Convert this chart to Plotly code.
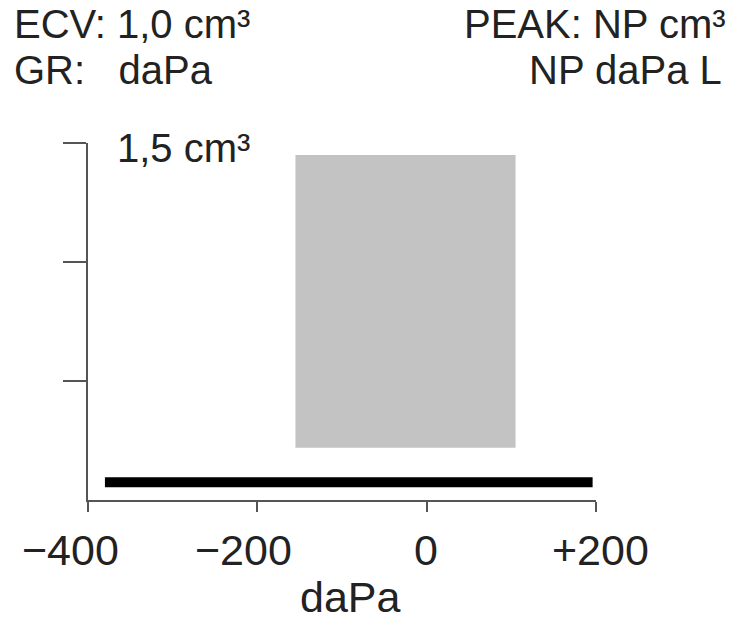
import plotly.graph_objects as go

# Tympanogram data
pressure_dapa = [-380, -200, 0, 196]
compliance_cm3 = [0.075, 0.075, 0.075, 0.075]

# Normal region box
norm_pressure = [-155, 105]
norm_compliance = [0.22, 1.45]

x_tickvals = [-400, -200, 0, 200]
x_ticktext = ["\u2212400", "\u2212200", "0", "+200"]
y_tickvals = [0.5, 1.0, 1.5]

header_left = ["ECV: 1,0 cm\u00b3", "GR:   daPa"]
header_right = ["PEAK: NP cm\u00b3", "NP daPa L"]
y_label = "1,5 cm\u00b3"
x_title = "daPa"

FONT = "Liberation Sans, Arial, sans-serif"
AX = "#555555"
TXT = "#222222"

# page body adds an 8px offset; figure sized to fill the window
W, H = 732, 611
L, R, T, B = 80, 144, 135, 119
PW, PH = W - L - R, H - T - B  # 508 x 357


def py(ref_y):
    """reference-pixel y -> paper y"""
    return (H - B - (ref_y - 8)) / PH


def px(ref_x):
    return (ref_x - 8 - L) / PW


fig = go.Figure()
fig.add_shape(type="rect", xref="x", yref="y",
              x0=norm_pressure[0], x1=norm_pressure[1],
              y0=norm_compliance[0], y1=norm_compliance[1],
              fillcolor="#c3c3c3", line=dict(width=0), layer="below")
fig.add_trace(go.Scatter(x=pressure_dapa, y=compliance_cm3, mode="lines",
                         line=dict(color="black", width=10), hoverinfo="skip",
                         showlegend=False))

fig.update_layout(
    width=W, height=H,
    margin=dict(l=L, r=R, t=T, b=B),
    paper_bgcolor="white", plot_bgcolor="white",
    showlegend=False,
    font=dict(family=FONT, color=TXT),
)
fig.update_xaxes(range=[-400, 200], showgrid=False, zeroline=False,
                 showline=True, linecolor=AX, linewidth=2,
                 ticks="outside", ticklen=10, tickwidth=2, tickcolor=AX,
                 tickvals=x_tickvals, showticklabels=False)
fig.update_yaxes(range=[0, 1.5], showgrid=False, zeroline=False,
                 showline=True, linecolor=AX, linewidth=2,
                 ticks="outside", ticklen=23, tickwidth=2, tickcolor=AX,
                 tickvals=y_tickvals, showticklabels=False)

# x tick labels (slightly offset from their ticks, as in the reference)
label_shift = [-18, -14, -1, 4]
for v, t, s in zip(x_tickvals, x_ticktext, label_shift):
    fig.add_annotation(text=t, xref="x", yref="paper", x=v, y=py(550), xshift=s,
                       xanchor="center", yanchor="middle", showarrow=False,
                       font=dict(family=FONT, size=43, color=TXT))
fig.add_annotation(text=x_title, xref="paper", yref="paper", x=px(350), y=py(597),
                   xanchor="center", yanchor="middle", showarrow=False,
                   font=dict(family=FONT, size=43, color=TXT))

# header / unit texts, positions in reference-pixel coordinates
annots = [
    dict(text=header_left[0], x=12, y=24, xanchor="left"),
    dict(text=header_left[1], x=12, y=70, xanchor="left"),
    dict(text=header_right[0], x=728, y=24, xanchor="right"),
    dict(text=header_right[1], x=724, y=70, xanchor="right"),
    dict(text=y_label, x=115, y=148, xanchor="left"),
]
for a in annots:
    fig.add_annotation(text=a["text"], xref="paper", yref="paper",
                       x=px(a["x"]), y=py(a["y"]),
                       xanchor=a["xanchor"], yanchor="middle", showarrow=False,
                       font=dict(family=FONT, size=40, color=TXT))

fig.write_html("out.html")
